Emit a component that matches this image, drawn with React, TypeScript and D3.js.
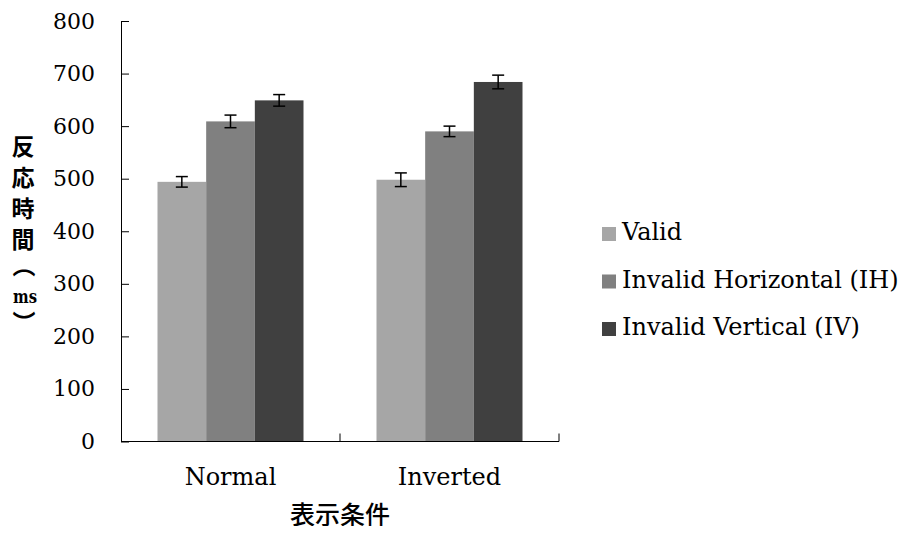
import React, { useEffect, useRef } from "react";
import * as d3 from "d3";

// chart data
const categories = ["Normal", "Inverted"];
const seriesNames = ["Valid", "Invalid Horizontal (IH)", "Invalid Vertical (IV)"];
const seriesColors = ["#a6a6a6", "#808080", "#404040"];
const validValues = [494, 498];
const ihValues = [609, 590];
const ivValues = [649, 684];
const validErr = [10, 13];
const ihErr = [12, 10];
const ivErr = [11, 13];
const yTicks = [0, 100, 200, 300, 400, 500, 600, 700, 800];
const yTitleChars = ["反", "応", "時", "間"];

const SERIF = "'DejaVu Serif', serif";
const CJK = "'Noto Sans CJK JP', sans-serif";

export default function App() {
  const ref = useRef<SVGSVGElement>(null);

  useEffect(() => {
    const width = 910;
    const height = 534;
    const left = 121;
    const right = 559;
    const top = 21;
    const bottom = 441.5;

    const svg = d3.select(ref.current)
      .attr("width", width)
      .attr("height", height);
    svg.selectAll("*").remove();

    const allValues = [validValues, ihValues, ivValues];
    const allErr = [validErr, ihErr, ivErr];
    const data = categories.flatMap((cat, ci) =>
      seriesNames.map((s, si) => ({
        cat, series: s, si, value: allValues[si][ci], err: allErr[si][ci],
      }))
    );

    const xScale = d3.scaleBand().domain(categories).range([left, right]).padding(0);
    const xInner = d3.scaleBand().domain(seriesNames)
      .range([0, xScale.bandwidth()]).paddingInner(0).paddingOuter(0.75);
    const yScale = d3.scaleLinear().domain([0, 800]).range([bottom, top]);

    // bars
    svg.append("g").selectAll("rect")
      .data(data)
      .enter()
      .append("rect")
      .attr("x", d => (xScale(d.cat) as number) + (xInner(d.series) as number))
      .attr("y", d => yScale(d.value))
      .attr("width", xInner.bandwidth())
      .attr("height", d => yScale(0) - yScale(d.value))
      .attr("fill", d => seriesColors[d.si]);

    // error bars
    const eb = svg.append("g").attr("stroke", "#000").attr("stroke-width", 1.5);
    data.forEach(d => {
      const cx = (xScale(d.cat) as number) + (xInner(d.series) as number) + xInner.bandwidth() / 2;
      const y1 = yScale(d.value + d.err);
      const y2 = yScale(d.value - d.err);
      eb.append("line").attr("x1", cx).attr("x2", cx).attr("y1", y1).attr("y2", y2);
      eb.append("line").attr("x1", cx - 6).attr("x2", cx + 6).attr("y1", y1).attr("y2", y1);
      eb.append("line").attr("x1", cx - 6).attr("x2", cx + 6).attr("y1", y2).attr("y2", y2);
    });

    // y axis
    const yAxis = d3.axisLeft(yScale)
      .tickValues(yTicks)
      .tickSize(-8)
      .tickSizeOuter(0)
      .tickPadding(26);
    const yg = svg.append("g")
      .attr("transform", `translate(${left},0)`)
      .call(yAxis);
    yg.selectAll("line").attr("stroke", "#000");
    yg.select(".domain").attr("stroke", "#000");
    yg.selectAll("text")
      .attr("fill", "#000")
      .style("font-family", SERIF)
      .style("font-size", "22px");

    // x axis
    const xg = svg.append("g");
    xg.append("line")
      .attr("x1", left).attr("x2", right)
      .attr("y1", bottom).attr("y2", bottom)
      .attr("stroke", "#000");
    categories.forEach(c => {
      const bx = (xScale(c) as number) + xScale.bandwidth();
      xg.append("line")
        .attr("x1", bx).attr("x2", bx)
        .attr("y1", bottom).attr("y2", bottom - 8)
        .attr("stroke", "#000");
      xg.append("text")
        .attr("x", (xScale(c) as number) + xScale.bandwidth() / 2)
        .attr("y", 485)
        .attr("text-anchor", "middle")
        .style("font-family", SERIF)
        .style("font-size", "24px")
        .text(c);
    });

    // x title
    svg.append("text")
      .attr("x", (xScale(categories[1]) as number))
      .attr("y", 524)
      .attr("text-anchor", "middle")
      .style("font-family", CJK)
      .style("font-weight", 500)
      .style("font-size", "25px")
      .text("表示条件");

    // y title, vertical
    const yt = svg.append("g")
      .style("font-family", CJK)
      .style("font-weight", "bold")
      .style("font-size", "23px");
    yTitleChars.forEach((ch, i) => {
      yt.append("text")
        .attr("x", 23)
        .attr("y", 155 + i * 31)
        .attr("text-anchor", "middle")
        .text(ch);
    });
    yt.append("text").attr("x", 24).attr("y", 274).attr("text-anchor", "middle").text("︵");
    yt.append("text")
      .attr("x", 25)
      .attr("y", 303)
      .attr("text-anchor", "middle")
      .attr("textLength", 24)
      .attr("lengthAdjust", "spacingAndGlyphs")
      .style("font-size", "18px")
      .style("font-family", SERIF)
      .text("ms");
    yt.append("text").attr("x", 24).attr("y", 331).attr("text-anchor", "middle").text("︶");

    // legend
    const lg = svg.append("g");
    seriesNames.forEach((s, i) => {
      const ly = 240 + i * 47.5;
      lg.append("rect")
        .attr("x", 602).attr("y", ly - 13)
        .attr("width", 14).attr("height", 14)
        .attr("fill", seriesColors[i]);
      lg.append("text")
        .attr("x", 622).attr("y", ly)
        .style("font-family", SERIF)
        .style("font-size", "24px")
        .text(s);
    });
  });

  return (
    <div>
      <svg ref={ref} style={{ display: "block", margin: "-8px" }}></svg>
    </div>
  );
}
